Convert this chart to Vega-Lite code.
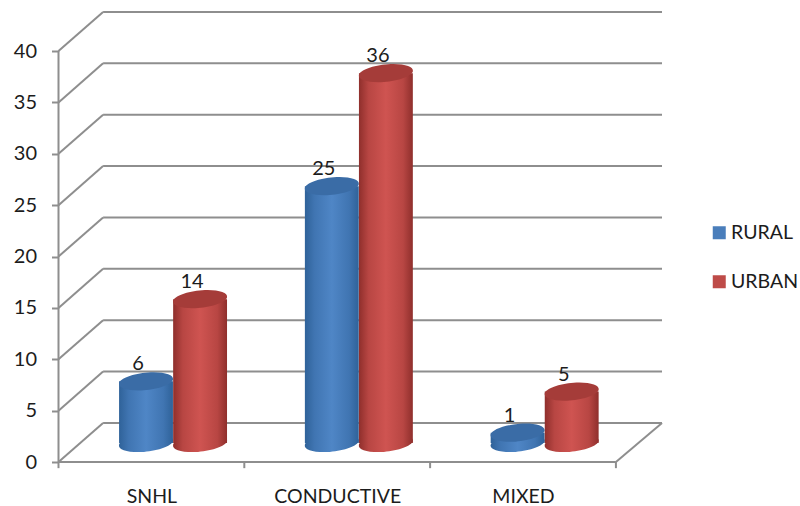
{
  "$schema": "https://vega.github.io/schema/vega-lite/v6.json",
  "width": 603.5,
  "height": 450,
  "autosize": {"type": "none"},
  "padding": {"left": 58.5, "top": 12, "right": 138, "bottom": 44},
  "background": "white",
  "config": {
    "font": "Lato",
    "view": {"stroke": null},
    "axis": {"grid": false, "title": null}
  },
  "datasets": {
    "levels": [
      {"value": 0}, {"value": 5}, {"value": 10}, {"value": 15}, {"value": 20},
      {"value": 25}, {"value": 30}, {"value": 35}, {"value": 40}
    ],
    "boundaries": [{"slot": 0}, {"slot": 1}, {"slot": 2}, {"slot": 3}],
    "cases": [
      {"category": "SNHL", "series": "RURAL", "value": 6},
      {"category": "SNHL", "series": "URBAN", "value": 14},
      {"category": "CONDUCTIVE", "series": "RURAL", "value": 25},
      {"category": "CONDUCTIVE", "series": "URBAN", "value": 36},
      {"category": "MIXED", "series": "RURAL", "value": 1},
      {"category": "MIXED", "series": "URBAN", "value": 5}
    ]
  },
  "layer": [
    {
      "description": "Side wall gridlines running back from the value axis",
      "data": {"name": "levels"},
      "transform": [
        {"calculate": "datum.value + 3.8", "as": "back"},
        {"calculate": "0", "as": "front"},
        {"calculate": "0.24", "as": "depth"}
      ],
      "mark": {"type": "rule", "color": "#8e8e8e", "strokeWidth": 2},
      "encoding": {
        "x": {
          "field": "front",
          "type": "quantitative",
          "scale": {"domain": [0, 3.248], "nice": false, "zero": false},
          "axis": {
            "values": [0.5, 1.5, 2.5],
            "labelExpr": "datum.value < 1 ? 'SNHL' : datum.value < 2 ? 'CONDUCTIVE' : 'MIXED'",
            "ticks": false,
            "domain": false,
            "labelFontSize": 19.5,
            "labelColor": "#1c1c1c",
            "labelPadding": 25,
            "labelFlush": false,
            "labelOverlap": false
          }
        },
        "x2": {"field": "depth"},
        "y": {
          "field": "value",
          "type": "quantitative",
          "scale": {"domain": [0, 43.8], "nice": false, "zero": false},
          "axis": {
            "values": [0, 5, 10, 15, 20, 25, 30, 35, 40],
            "domain": false,
            "tickSize": 7,
            "tickWidth": 2,
            "tickColor": "#8e8e8e",
            "labelFontSize": 20,
            "labelColor": "#1c1c1c",
            "labelPadding": 15
          }
        },
        "y2": {"field": "back"}
      }
    },
    {
      "description": "Back wall gridlines",
      "data": {"name": "levels"},
      "transform": [
        {"calculate": "datum.value + 3.8", "as": "back"},
        {"calculate": "0.24", "as": "depth"},
        {"calculate": "3.248", "as": "far"}
      ],
      "mark": {"type": "rule", "color": "#8e8e8e", "strokeWidth": 2},
      "encoding": {
        "x": {"field": "depth", "type": "quantitative"},
        "x2": {"field": "far"},
        "y": {"field": "back", "type": "quantitative"}
      }
    },
    {
      "description": "Front value axis line and front edge of the floor",
      "data": {"values": [{"xFrom": 0, "xTo": 0, "yFrom": 0, "yTo": 40}, {"xFrom": 0, "xTo": 3, "yFrom": 0, "yTo": 0}, {"xFrom": 3, "xTo": 3.248, "yFrom": 0, "yTo": 3.8}]},
      "mark": {"type": "rule", "color": "#8e8e8e", "strokeWidth": 2},
      "encoding": {
        "x": {"field": "xFrom", "type": "quantitative"},
        "x2": {"field": "xTo"},
        "y": {"field": "yFrom", "type": "quantitative"},
        "y2": {"field": "yTo"}
      }
    },
    {
      "description": "Category boundary ticks under the floor",
      "data": {"name": "boundaries"},
      "transform": [
        {"calculate": "0", "as": "floor"},
        {"calculate": "-0.6", "as": "below"}
      ],
      "mark": {"type": "rule", "color": "#8e8e8e", "strokeWidth": 2},
      "encoding": {
        "x": {"field": "slot", "type": "quantitative"},
        "y": {"field": "floor", "type": "quantitative"},
        "y2": {"field": "below"}
      }
    },
    {
      "description": "Cylinders, one sublayer per series so urban overlaps rural",
      "data": {"name": "cases"},
      "transform": [
        {"calculate": "indexof(['SNHL', 'CONDUCTIVE', 'MIXED'], datum.category) + (datum.series === 'RURAL' ? 0.471 : 0.762)", "as": "center"},
        {"calculate": "datum.center - 0.145", "as": "left"},
        {"calculate": "datum.center + 0.145", "as": "right"},
        {"calculate": "1.85", "as": "base"},
        {"calculate": "datum.value + 1.85", "as": "top"}
      ],
      "layer": [
        {
          "description": "Invisible marks that only supply the series colours to the legend",
          "mark": {"type": "point", "filled": true, "opacity": 0},
          "encoding": {
            "x": {"field": "center", "type": "quantitative"},
            "y": {"field": "base", "type": "quantitative"},
            "color": {
              "field": "series",
              "type": "nominal",
              "scale": {"domain": ["RURAL", "URBAN"], "range": ["#4a7ebb", "#be4b48"]},
              "legend": {
                "title": null,
                "orient": "none",
                "legendX": 651,
                "legendY": 211,
                "symbolType": "square",
                "symbolSize": 169,
                "symbolOpacity": 1,
                "symbolStrokeWidth": 0,
                "labelFontSize": 19.5,
                "labelColor": "#1c1c1c",
                "labelOffset": 2,
                "rowPadding": 28
              }
            }
          }
        },
        {
          "transform": [{"filter": "datum.series === 'RURAL'"}],
          "mark": {
            "type": "point",
            "filled": true,
            "opacity": 1,
            "shape": "M-1,0.07A1,0.32,-6,1,1,1,-0.07A1,0.32,-6,1,1,-1,0.07Z",
            "size": 2916,
            "fill": {"x1": 0, "x2": 1, "y1": 0, "y2": 0, "gradient": "linear", "stops": [
              {"offset": 0, "color": "#2f6299"}, {"offset": 0.18, "color": "#4075b2"}, {"offset": 0.5, "color": "#4f86c6"}, {"offset": 0.82, "color": "#4075b2"}, {"offset": 1, "color": "#2f6299"}
            ]}
          },
          "encoding": {
            "x": {"field": "center", "type": "quantitative"},
            "y": {"field": "base", "type": "quantitative"}
          }
        },
        {
          "transform": [{"filter": "datum.series === 'RURAL'"}],
          "mark": {
            "type": "rect",
            "fill": {"x1": 0, "x2": 1, "y1": 0, "y2": 0, "gradient": "linear", "stops": [
              {"offset": 0, "color": "#2f6299"}, {"offset": 0.18, "color": "#4075b2"}, {"offset": 0.5, "color": "#4f86c6"}, {"offset": 0.82, "color": "#4075b2"}, {"offset": 1, "color": "#2f6299"}
            ]}
          },
          "encoding": {
            "x": {"field": "left", "type": "quantitative"},
            "x2": {"field": "right"},
            "y": {"field": "base", "type": "quantitative"},
            "y2": {"field": "top"}
          }
        },
        {
          "transform": [{"filter": "datum.series === 'RURAL'"}],
          "mark": {
            "type": "point",
            "filled": true,
            "opacity": 1,
            "shape": "M-1,0.07A1,0.32,-6,1,1,1,-0.07A1,0.32,-6,1,1,-1,0.07Z",
            "size": 2916,
            "fill": "#3a6ca6"
          },
          "encoding": {
            "x": {"field": "center", "type": "quantitative"},
            "y": {"field": "top", "type": "quantitative"}
          }
        },
        {
          "transform": [{"filter": "datum.series === 'URBAN'"}],
          "mark": {
            "type": "point",
            "filled": true,
            "opacity": 1,
            "shape": "M-1,0.07A1,0.32,-6,1,1,1,-0.07A1,0.32,-6,1,1,-1,0.07Z",
            "size": 2916,
            "fill": {"x1": 0, "x2": 1, "y1": 0, "y2": 0, "gradient": "linear", "stops": [
              {"offset": 0, "color": "#8f2f2c"}, {"offset": 0.18, "color": "#b84643"}, {"offset": 0.5, "color": "#cf5451"}, {"offset": 0.82, "color": "#b84643"}, {"offset": 1, "color": "#8f2f2c"}
            ]}
          },
          "encoding": {
            "x": {"field": "center", "type": "quantitative"},
            "y": {"field": "base", "type": "quantitative"}
          }
        },
        {
          "transform": [{"filter": "datum.series === 'URBAN'"}],
          "mark": {
            "type": "rect",
            "fill": {"x1": 0, "x2": 1, "y1": 0, "y2": 0, "gradient": "linear", "stops": [
              {"offset": 0, "color": "#8f2f2c"}, {"offset": 0.18, "color": "#b84643"}, {"offset": 0.5, "color": "#cf5451"}, {"offset": 0.82, "color": "#b84643"}, {"offset": 1, "color": "#8f2f2c"}
            ]}
          },
          "encoding": {
            "x": {"field": "left", "type": "quantitative"},
            "x2": {"field": "right"},
            "y": {"field": "base", "type": "quantitative"},
            "y2": {"field": "top"}
          }
        },
        {
          "transform": [{"filter": "datum.series === 'URBAN'"}],
          "mark": {
            "type": "point",
            "filled": true,
            "opacity": 1,
            "shape": "M-1,0.07A1,0.32,-6,1,1,1,-0.07A1,0.32,-6,1,1,-1,0.07Z",
            "size": 2916,
            "fill": "#a53c39"
          },
          "encoding": {
            "x": {"field": "center", "type": "quantitative"},
            "y": {"field": "top", "type": "quantitative"}
          }
        },
        {
          "mark": {
            "type": "text",
            "font": "Lato",
            "fontSize": 20,
            "color": "#1c1c1c",
            "baseline": "middle",
            "dx": -8,
            "dy": -17
          },
          "encoding": {
            "x": {"field": "center", "type": "quantitative"},
            "y": {"field": "top", "type": "quantitative"},
            "text": {"field": "value", "type": "quantitative"}
          }
        }
      ]
    }
  ]
}
